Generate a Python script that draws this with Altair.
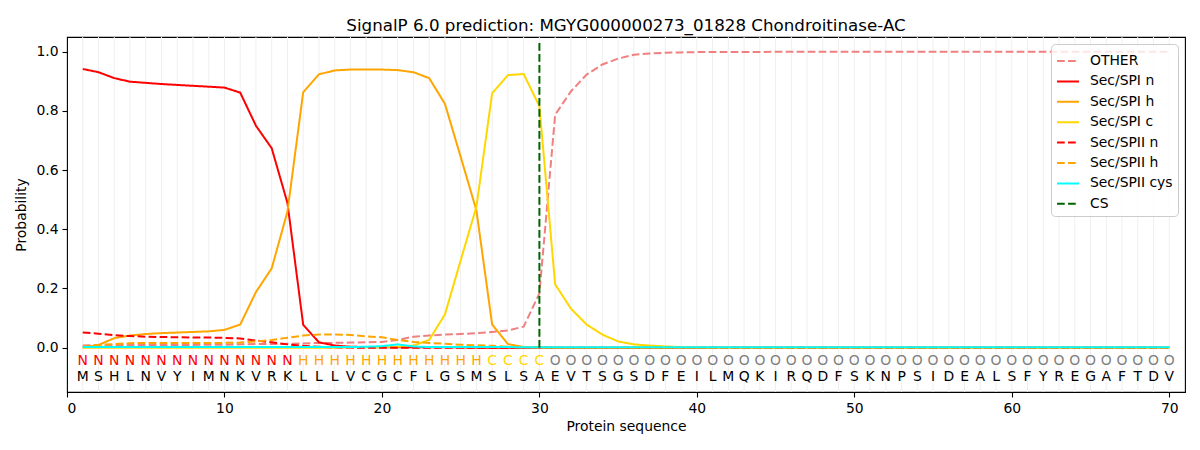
import altair as alt
import pandas as pd

positions = list(range(1, 71))
sequence = list("MSHLNVYIMNKVRKLLLVCGCFLGSMSLSAEVTSGSDFEILMQKIRQDFSKNPSIDEALSFYREGAFTDV")
labels = list("NNNNNNNNNNNNNNHHHHHHHHHHHHCCCCOOOOOOOOOOOOOOOOOOOOOOOOOOOOOOOOOOOOOOOO")
label_colors = {"N": "#ff0000", "H": "#ffa500", "C": "#ffd700", "O": "#808080"}

other = [0.007, 0.009, 0.009, 0.009, 0.009, 0.009, 0.009, 0.009, 0.010, 0.010,
         0.011, 0.012, 0.012, 0.013, 0.014, 0.016, 0.016, 0.017, 0.018, 0.019,
         0.026, 0.037, 0.041, 0.044, 0.046, 0.049, 0.053, 0.058, 0.071, 0.183,
         0.787, 0.866, 0.923, 0.957, 0.977, 0.990, 0.994, 0.997, 0.998, 0.999,
         0.999, 0.999, 0.999, 0.999, 1.000, 1.000, 1.000, 1.000, 1.000, 1.000,
         1.000, 1.000, 1.000, 1.000, 1.000, 1.000, 1.000, 1.000, 1.000, 1.000,
         1.000, 1.000, 1.000, 1.000, 1.000, 1.000, 1.000, 1.000, 1.000, 1.000]
spi_n = [0.942, 0.931, 0.911, 0.899, 0.895, 0.891, 0.888, 0.885, 0.882, 0.879,
         0.862, 0.750, 0.674, 0.489, 0.077, 0.018, 0.007, 0.003, 0.002, 0.001,
         0.001, 0.001, 0.001, 0.001, 0.001, 0.000, 0.000, 0.000, 0.000, 0.000,
         0, 0, 0, 0, 0, 0, 0, 0, 0, 0,
         0, 0, 0, 0, 0, 0, 0, 0, 0, 0,
         0, 0, 0, 0, 0, 0, 0, 0, 0, 0,
         0, 0, 0, 0, 0, 0, 0, 0, 0, 0]
spi_h = [0.000, 0.009, 0.032, 0.041, 0.046, 0.049, 0.051, 0.053, 0.055, 0.060,
         0.078, 0.188, 0.268, 0.460, 0.863, 0.924, 0.937, 0.940, 0.940, 0.940,
         0.938, 0.931, 0.911, 0.824, 0.645, 0.464, 0.078, 0.012, 0.002, 0.001,
         0, 0, 0, 0, 0, 0, 0, 0, 0, 0,
         0, 0, 0, 0, 0, 0, 0, 0, 0, 0,
         0, 0, 0, 0, 0, 0, 0, 0, 0, 0,
         0, 0, 0, 0, 0, 0, 0, 0, 0, 0]
spi_c = [0.000, 0.000, 0.000, 0.000, 0.000, 0.000, 0.000, 0.000, 0.000, 0.000,
         0.000, 0.000, 0.000, 0.000, 0.000, 0.000, 0.000, 0.001, 0.001, 0.001,
         0.003, 0.007, 0.026, 0.112, 0.295, 0.476, 0.860, 0.921, 0.925, 0.816,
         0.214, 0.132, 0.078, 0.044, 0.021, 0.011, 0.007, 0.004, 0.002, 0.001,
         0, 0, 0, 0, 0, 0, 0, 0, 0, 0,
         0, 0, 0, 0, 0, 0, 0, 0, 0, 0,
         0, 0, 0, 0, 0, 0, 0, 0, 0, 0]
spii_n = [0.051, 0.047, 0.042, 0.039, 0.037, 0.036, 0.035, 0.034, 0.034, 0.033,
          0.031, 0.024, 0.018, 0.011, 0.006, 0.003, 0.001, 0.000, 0.000, 0.000,
          0, 0, 0, 0, 0, 0, 0, 0, 0, 0,
          0, 0, 0, 0, 0, 0, 0, 0, 0, 0,
          0, 0, 0, 0, 0, 0, 0, 0, 0, 0,
          0, 0, 0, 0, 0, 0, 0, 0, 0, 0,
          0, 0, 0, 0, 0, 0, 0, 0, 0, 0]
spii_h = [0.003, 0.009, 0.012, 0.015, 0.016, 0.016, 0.016, 0.016, 0.016, 0.016,
          0.017, 0.021, 0.026, 0.033, 0.041, 0.044, 0.044, 0.043, 0.038, 0.035,
          0.026, 0.019, 0.016, 0.013, 0.010, 0.008, 0.006, 0.003, 0.001, 0.000,
          0, 0, 0, 0, 0, 0, 0, 0, 0, 0,
          0, 0, 0, 0, 0, 0, 0, 0, 0, 0,
          0, 0, 0, 0, 0, 0, 0, 0, 0, 0,
          0, 0, 0, 0, 0, 0, 0, 0, 0, 0]
spii_cys = [0.002, 0.002, 0.002, 0.002, 0.002, 0.002, 0.002, 0.002, 0.002, 0.002,
            0.002, 0.002, 0.002, 0.002, 0.002, 0.002, 0.002, 0.002, 0.003, 0.005,
            0.011, 0.004, 0.002, 0.002, 0.002, 0.002, 0.002, 0.002, 0.001, 0.001,
            0.001, 0.001, 0.001, 0.001, 0.001, 0.001, 0.001, 0.001, 0.001, 0.001,
            0.001, 0.001, 0.001, 0.001, 0.001, 0.001, 0.001, 0.001, 0.001, 0.001,
            0.001, 0.001, 0.001, 0.001, 0.001, 0.001, 0.001, 0.001, 0.001, 0.001,
            0.001, 0.001, 0.001, 0.001, 0.001, 0.001, 0.001, 0.001, 0.001, 0.001]
cs_position = [30]
cs_low = [0.0]
cs_high = [1.04]

series_names = ["OTHER", "Sec/SPI n", "Sec/SPI h", "Sec/SPI c",
                "Sec/SPII n", "Sec/SPII h", "Sec/SPII cys", "CS"]
series_colors = ["#f08080", "#ff0000", "#ffa500", "#ffd700",
                 "#ff0000", "#ffa500", "#00ffff", "#006400"]
dash = [7.7, 3.3]
solid = [1, 0]
series_dashes = [dash, solid, solid, solid, dash, dash, solid, dash]

series_values = [other, spi_n, spi_h, spi_c, spii_n, spii_h, spii_cys]
rows = []
for name, vals in zip(series_names[:7], series_values):
    for p, v in zip(positions, vals):
        rows.append({"pos": p, "prob": v, "series": name})
lines_df = pd.DataFrame(rows)
cs_df = pd.DataFrame({"pos": cs_position, "lo": cs_low, "hi": cs_high, "series": ["CS"]})
grid_df = pd.DataFrame({"pos": positions})
text_df = pd.DataFrame({
    "pos": positions,
    "aa": sequence,
    "lab": labels,
    "lcolor": [label_colors[l] for l in labels],
})

FONT = "DejaVu Sans"
xscale = alt.Scale(domain=[0, 71], nice=False, zero=False)
yscale = alt.Scale(domain=[-0.15, 1.05], nice=False, zero=False)

color_enc = alt.Color("series:N", title=None,
                      scale=alt.Scale(domain=series_names, range=series_colors),
                      sort=series_names,
                      legend=alt.Legend(orient="top-right", offset=7, padding=5,
                                        strokeColor="#cccccc", fillColor="rgba(255,255,255,0.8)",
                                        cornerRadius=4, labelFontSize=13.9, labelFont=FONT,
                                        labelColor="black", symbolSize=480, symbolStrokeWidth=2,
                                        symbolType="stroke", labelOffset=10, rowPadding=1.4,
                                        labelLimit=300))
dash_enc = alt.StrokeDash("series:N", title=None,
                          scale=alt.Scale(domain=series_names, range=series_dashes),
                          sort=series_names)

grid = alt.Chart(grid_df).mark_rule(color="#efefef", strokeWidth=1).encode(
    x=alt.X("pos:Q", scale=xscale))

lines = alt.Chart(lines_df).mark_line(strokeWidth=2).encode(
    x=alt.X("pos:Q", scale=xscale, title="Protein sequence",
            axis=alt.Axis(values=[0, 10, 20, 30, 40, 50, 60, 70], format="d")),
    y=alt.Y("prob:Q", scale=yscale, title="Probability",
            axis=alt.Axis(values=[0, 0.2, 0.4, 0.6, 0.8, 1.0], format=".1f")),
    color=color_enc,
    strokeDash=dash_enc,
    order=alt.Order("pos:Q"),
)

cs_rule = alt.Chart(cs_df).mark_rule(strokeWidth=2).encode(
    x=alt.X("pos:Q", scale=xscale),
    y=alt.Y("lo:Q", scale=yscale),
    y2="hi:Q",
    color=color_enc,
    strokeDash=dash_enc,
)

lab_text = alt.Chart(text_df).mark_text(font=FONT, fontSize=13.9, baseline="middle").encode(
    x=alt.X("pos:Q", scale=xscale),
    y=alt.Y("ylab:Q", scale=yscale),
    text="lab:N",
    fill=alt.Fill("lcolor:N", scale=None),
).transform_calculate(ylab="-0.046")

aa_text = alt.Chart(text_df).mark_text(font=FONT, fontSize=13.9, baseline="middle", color="black").encode(
    x=alt.X("pos:Q", scale=xscale),
    y=alt.Y("yaa:Q", scale=yscale),
    text="aa:N",
).transform_calculate(yaa="-0.1")

chart = alt.layer(grid, lines, cs_rule, lab_text, aa_text).properties(
    width=1118, height=355,
    title=alt.Title("SignalP 6.0 prediction: MGYG000000273_01828 Chondroitinase-AC",
                    font=FONT, fontSize=16.7, fontWeight="normal", color="black",
                    anchor="middle", offset=2),
    autosize=alt.AutoSizeParams(type="none"),
    padding={"left": 59, "top": 29, "right": 5, "bottom": 45},
).configure_view(stroke="black", strokeWidth=1.1).configure_axis(
    grid=False, domain=False, tickColor="black", tickSize=5, tickWidth=1.1,
    labelFont=FONT, labelFontSize=13.9, labelColor="black", labelPadding=4,
    titleFont=FONT, titleFontSize=13.9, titleFontWeight="normal", titleColor="black",
).configure_axisX(titlePadding=5).configure_axisY(titlePadding=7)

chart.save("out.html", embed_options={"renderer": "svg", "actions": False})
